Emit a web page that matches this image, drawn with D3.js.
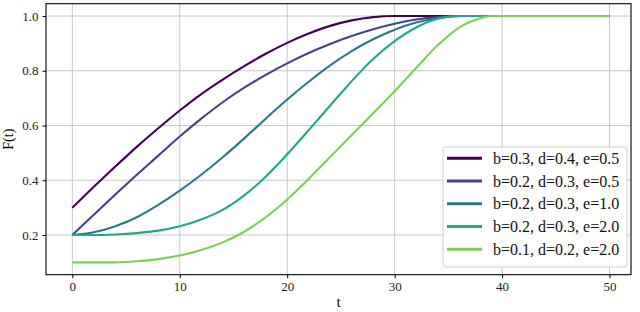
<!DOCTYPE html>
<html><head><meta charset="utf-8">
<script src="https://cdn.jsdelivr.net/npm/d3@7"></script>
<style>body{margin:0;background:#fff}svg{display:block}</style>
</head><body>
<svg id="c" width="640" height="312"></svg>
<script>
const labels = ["b=0.3, d=0.4, e=0.5","b=0.2, d=0.3, e=0.5","b=0.2, d=0.3, e=1.0","b=0.2, d=0.3, e=2.0","b=0.1, d=0.2, e=2.0"];
const colors = ["#440154","#414487","#2a788e","#22a884","#7ad151"];
const xTicks = [0,10,20,30,40,50];
const yTicks = [0.2,0.4,0.6,0.8,1.0];
const s1 = [[0,0.3],[2,0.376],[4,0.45],[6,0.522],[8,0.59],[10,0.655],[12,0.715],[14,0.768],[16,0.817],[18,0.862],[20,0.902],[22,0.936],[24,0.964],[26,0.984],[28,0.996],[30,1.0],[50,1.0]];
const s2 = [[0,0.2],[2,0.274],[4,0.348],[6,0.42],[8,0.49],[10,0.56],[12,0.625],[14,0.685],[16,0.738],[18,0.785],[20,0.827],[22,0.865],[24,0.898],[26,0.927],[28,0.952],[30,0.972],[32,0.987],[34,0.996],[36,1.0],[50,1.0]];
const s3 = [[0,0.2],[2,0.21],[4,0.232],[6,0.265],[8,0.31],[10,0.362],[12,0.42],[14,0.484],[16,0.553],[18,0.625],[20,0.695],[22,0.76],[24,0.82],[26,0.872],[28,0.915],[30,0.95],[32,0.976],[34,0.992],[36,1.0],[50,1.0]];
const s4 = [[0,0.2],[2,0.2],[4,0.202],[6,0.207],[8,0.216],[10,0.232],[12,0.257],[14,0.292],[16,0.345],[18,0.413],[20,0.495],[22,0.583],[24,0.673],[26,0.762],[28,0.843],[30,0.908],[32,0.958],[34,0.99],[36,1.0],[50,1.0]];
const s5 = [[0,0.1],[2,0.1],[4,0.1],[6,0.104],[8,0.112],[10,0.125],[12,0.145],[14,0.173],[16,0.212],[18,0.265],[20,0.33],[22,0.405],[24,0.485],[26,0.565],[28,0.645],[30,0.725],[32,0.81],[34,0.893],[36,0.958],[38,0.992],[39,1.0],[50,1.0]];
const series = [s1,s2,s3,s4,s5];

const svg = d3.select("#c");
const L=46,R=631,T=3.7,B=274.7;
const x = d3.scaleLinear().domain([-2.45,52]).range([L,R]);
const y = d3.scaleLinear().domain([0.055,1.045]).range([B,T]);
const font = "'Liberation Serif','DejaVu Serif',serif";

// grid
const g = svg.append("g");
g.selectAll(".gx").data(xTicks).enter().append("line")
 .attr("x1",d=>x(d)).attr("x2",d=>x(d)).attr("y1",T).attr("y2",B)
 .attr("stroke","#c8c8c8").attr("stroke-width",1);
g.selectAll(".gy").data(yTicks).enter().append("line")
 .attr("y1",d=>y(d)).attr("y2",d=>y(d)).attr("x1",L).attr("x2",R)
 .attr("stroke","#c8c8c8").attr("stroke-width",1);

// lines
const line = d3.line().x(d=>x(d[0])).y(d=>y(d[1])).curve(d3.curveMonotoneX);
series.forEach((s,i)=>{
  svg.append("path").attr("d",line(s)).attr("fill","none")
   .attr("stroke",colors[i]).attr("stroke-width",2.1);
});

// axes
const xa = svg.append("g").attr("transform",`translate(0,${B})`)
 .call(d3.axisBottom(x).tickValues(xTicks).tickFormat(d3.format("d")).tickSize(3.5).tickPadding(4));
const ya = svg.append("g").attr("transform",`translate(${L},0)`)
 .call(d3.axisLeft(y).tickValues(yTicks).tickFormat(d3.format(".1f")).tickSize(3.5).tickPadding(4));
[xa,ya].forEach(a=>{
  a.select(".domain").remove();
  a.selectAll("text").attr("font-family",font).attr("font-size",13).attr("fill","#222");
  a.selectAll("line").attr("stroke","#000");
});
svg.append("rect").attr("x",L).attr("y",T).attr("width",R-L).attr("height",B-T)
 .attr("fill","none").attr("stroke","#000").attr("stroke-width",1.1);

svg.append("text").attr("x",(L+R)/2).attr("y",307).attr("text-anchor","middle")
 .attr("font-family",font).attr("font-size",15).text("t");
svg.append("text").attr("transform",`translate(13,${(T+B)/2}) rotate(-90)`).attr("text-anchor","middle")
 .attr("font-family",font).attr("font-size",14).text("F(t)");

// legend
const lg = svg.append("g");
lg.append("rect").attr("x",443).attr("y",147).attr("width",184).attr("height",120)
 .attr("rx",3).attr("fill","#fff").attr("fill-opacity",0.85).attr("stroke","#d0d0d0");
labels.forEach((lab,i)=>{
  const yy = 158.3 + i*22.75;
  lg.append("line").attr("x1",447).attr("x2",482).attr("y1",yy).attr("y2",yy)
   .attr("stroke",colors[i]).attr("stroke-width",3);
  lg.append("text").attr("x",493).attr("y",yy).attr("dy","0.35em")
   .attr("font-family",font).attr("font-size",16).attr("fill","#111").text(lab);
});
</script>
</body></html>
